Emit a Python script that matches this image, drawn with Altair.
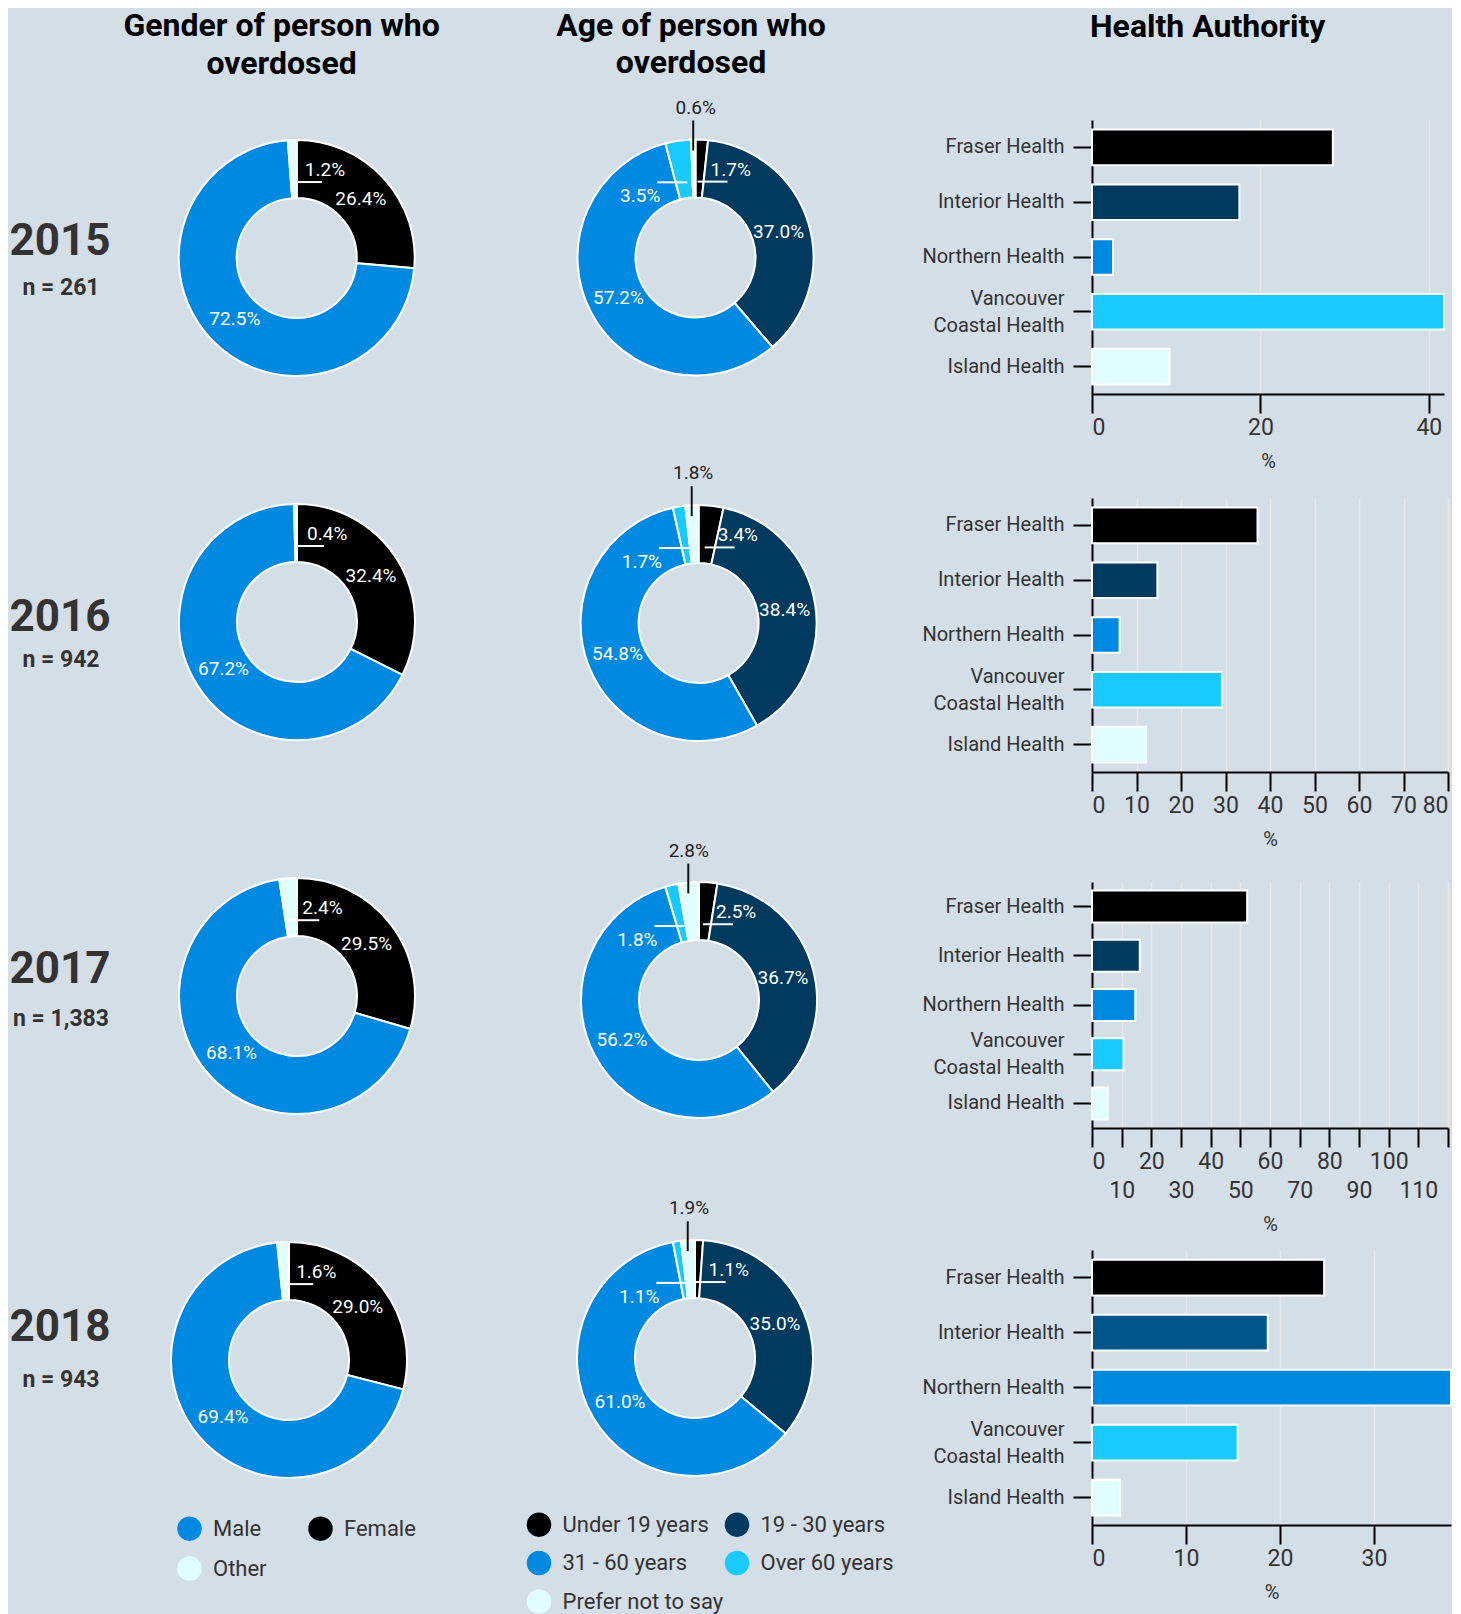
import altair as alt
import pandas as pd

# ---------------- data ----------------
YEARS = ["2015", "2016", "2017", "2018"]
N_LABELS = ["n = 261", "n = 942", "n = 1,383", "n = 943"]

GENDER_CATS = ["Female", "Male", "Other"]          # clockwise from the top
GENDER_LEGEND = ["Male", "Other", "Female"]        # legend fills column by column
GENDER_2015 = [26.4, 72.5, 1.2]
GENDER_2016 = [32.4, 67.2, 0.4]
GENDER_2017 = [29.5, 68.1, 2.4]
GENDER_2018 = [29.0, 69.4, 1.6]

AGE_CATS = ["Under 19 years", "19 - 30 years", "31 - 60 years", "Over 60 years", "Prefer not to say"]
AGE_LEGEND = ["Under 19 years", "31 - 60 years", "Prefer not to say", "19 - 30 years", "Over 60 years"]
AGE_2015 = [1.7, 37.0, 57.2, 3.5, 0.6]
AGE_2016 = [3.4, 38.4, 54.8, 1.7, 1.8]
AGE_2017 = [2.5, 36.7, 56.2, 1.8, 2.8]
AGE_2018 = [1.1, 35.0, 61.0, 1.1, 1.9]

HA_CATS = ["Fraser Health", "Interior Health", "Northern Health",
           "Vancouver Coastal Health", "Island Health"]
HA_2015 = [28.6, 17.5, 2.5, 41.8, 9.2]
HA_2016 = [37.2, 14.7, 6.2, 29.2, 12.1]
HA_2017 = [52.3, 16.1, 14.6, 10.6, 5.3]
HA_2018 = [24.7, 18.7, 38.2, 15.5, 3.0]

GENDER = [GENDER_2015, GENDER_2016, GENDER_2017, GENDER_2018]
AGE = [AGE_2015, AGE_2016, AGE_2017, AGE_2018]
HA = [HA_2015, HA_2016, HA_2017, HA_2018]

# ---------------- style ----------------
BG = "#d4dee6"
BLACK = "#000000"
NAVY = "#003a5e"
NAVY2 = "#00558a"
BLUE = "#0089e0"
CYAN = "#18caff"
PALE = "#e0fdff"
TXT = "#333333"

GENDER_COLOR = {"Male": BLUE, "Female": BLACK, "Other": PALE}
AGE_COLOR = {"Under 19 years": BLACK, "19 - 30 years": NAVY, "31 - 60 years": BLUE,
             "Over 60 years": CYAN, "Prefer not to say": PALE}
GENDER_STYLE = {"Other": "right"}
AGE_STYLE = {"Under 19 years": "right", "Over 60 years": "left", "Prefer not to say": "above"}

COLW = [160, 330, 594]
ROWH = [378, 384, 368, 360]
HEADER_H = 107

GENDER_CENTER = [(128.7, 138), (129, 124), (129, 114), (121, 110)]
AGE_CENTER = [(197.5, 137.5), (200.6, 125), (201, 118), (197, 108)]
YEAR_Y = [(122, 168), (120, 162), (88, 137), (78, 130)]

BAR_W = [352, 356, 356, 359]
BAR_H = [274, 274, 246, 275]
BAR_XMAX = [41.8, 80, 120, 38.2]
BAR_TICKS = [[0, 20, 40], list(range(0, 81, 10)), list(range(0, 121, 10)), [0, 10, 20, 30]]

ONE = alt.Data(values=[{}])


def text_cell(items, w, h):
    layers = []
    for it in items:
        t, x, y, size, weight, color = it[:6]
        extra = it[6] if len(it) > 6 else {}
        layers.append(
            alt.Chart(ONE).mark_text(text=t, fontSize=size, fontWeight=weight, color=color,
                                     font="Roboto", **extra)
            .encode(x=alt.value(x), y=alt.value(y))
        )
    return alt.layer(*layers).properties(width=w, height=h)


def donut(cats, vals, styles, dom, colors, cx, cy, w, h, legend=None):
    df = pd.DataFrame({"cat": cats, "v": vals})
    df["idx"] = list(range(len(cats)))
    df["lab"] = [f"{v:.1f}%" for v in vals]
    df["style"] = [styles.get(c, "big") for c in cats]
    base = alt.Chart(df).encode(
        theta=alt.Theta("v:Q", stack=True),
        order=alt.Order("idx:Q"),
        x=alt.value(cx), y=alt.value(cy),
    )
    arc = base.mark_arc(outerRadius=118, innerRadius=60, stroke="white", strokeWidth=2).encode(
        color=alt.Color("cat:N", scale=alt.Scale(domain=dom, range=[colors[d] for d in dom]),
                        legend=legend)
    )

    def lab(style, **kw):
        return base.mark_text(font="Roboto", fontSize=19, **kw).encode(
            text=alt.condition(f"datum.style == '{style}'", "lab:N", alt.value(""))
        )

    # leader lines, positioned from the slice mid-angles computed from the data
    leaders = (
        alt.Chart(df)
        .transform_joinaggregate(total="sum(v)")
        .transform_window(cum="sum(v)", sort=[alt.SortField("idx")], frame=[None, 0])
        .transform_calculate(ang="2*PI*(datum.cum - datum.v/2)/datum.total")
        .transform_calculate(
            ax=f"{cx} + 76*sin(datum.ang)",
            ay=f"{cy} - 76*cos(datum.ang)",
            vx=f"{cx} + 122*sin(datum.ang)",
        )
        .transform_calculate(
            x1="datum.style == 'right' ? datum.ax - 2 : datum.style == 'left' ? datum.ax - 27 : datum.vx",
            x2="datum.style == 'right' ? datum.ax + 28 : datum.style == 'left' ? datum.ax + 3 : datum.vx",
            y1=f"datum.style == 'above' ? {cy} - 107*cos(datum.ang) : datum.ay",
            y2=f"datum.style == 'above' ? {cy} - 137*cos(datum.ang) : datum.ay",
        )
        .transform_filter("datum.style != 'big'")
        .mark_rule(strokeWidth=2)
        .encode(
            x=alt.X("x1:Q", scale=None), x2="x2:Q",
            y=alt.Y("y1:Q", scale=None), y2="y2:Q",
            color=alt.condition("datum.style == 'above'", alt.value("#111111"), alt.value("white")),
        )
    )

    layers = [
        arc,
        leaders,
        lab("big", radius=87, color="white"),
        lab("right", radius=76, align="left", dx=11, dy=-12, color="white"),
        lab("left", radius=76, align="right", dx=-24, dy=14, color="white"),
        lab("above", radius=150, dx=3, color="#222222"),
    ]
    return alt.layer(*layers).properties(width=w, height=h)


def bars(i):
    df = pd.DataFrame({"ha": HA_CATS, "pct": HA[i]})
    colors = [BLACK, NAVY2 if i == 3 else NAVY, BLUE, CYAN, PALE]
    xscale = alt.Scale(domain=[0, BAR_XMAX[i]], nice=False, zero=True)
    two_rows = i == 2
    common = dict(orient="bottom", labelFontSize=23, labelColor=TXT, labelFont="Roboto",
                  tickSize=19, tickWidth=2, tickColor="black", labelPadding=3,
                  labelOverlap=False, titleFontSize=20, titleFont="Roboto",
                  titleFontWeight="normal", titleColor=TXT, titlePadding=12)
    if two_rows:
        xaxis = alt.Axis(values=BAR_TICKS[i], title=None, grid=True, gridColor="#e8e8e8",
                         gridWidth=1.5, domainColor="black", domainWidth=2, labelFlush=True,
                         labelExpr="datum.value % 20 == 0 && datum.value < 120 ? datum.label : ''",
                         **common)
    else:
        xaxis = alt.Axis(values=BAR_TICKS[i], title="%", grid=True, gridColor="#e8e8e8",
                         gridWidth=1.5, domainColor="black", domainWidth=2, labelFlush=True,
                         **common)
    yaxis = alt.Axis(title=None, labelFontSize=20, labelColor=TXT, labelFont="Roboto",
                     domainColor="black", domainWidth=2, tickColor="black", tickWidth=2,
                     tickSize=19, labelPadding=9, labelLimit=400, labelLineHeight=27,
                     labelOffset={"condition": {"test": "datum.value == 'Vancouver Coastal Health'",
                                                "value": -13},
                                  "value": 0},
                     labelExpr="datum.label == 'Vancouver Coastal Health' ? ['Vancouver', 'Coastal Health'] : datum.label")
    bar = alt.Chart(df).mark_bar(stroke="white", strokeWidth=2).encode(
        y=alt.Y("ha:N", sort=HA_CATS, axis=yaxis,
                scale=alt.Scale(paddingInner=0.35, paddingOuter=0.175)),
        x=alt.X("pct:Q", scale=xscale, axis=xaxis),
        color=alt.Color("ha:N", scale=alt.Scale(domain=HA_CATS, range=colors), legend=None),
    )
    if two_rows:
        c2 = dict(common)
        c2["labelPadding"] = 32
        ghost = alt.Chart(df).mark_point(opacity=0).encode(
            x=alt.X("pct:Q", scale=xscale,
                    axis=alt.Axis(values=list(range(10, 111, 20)), title="%", grid=False,
                                  domain=False, tickOpacity=0, labelFlush=False, **c2))
        )
        return alt.layer(bar, ghost).resolve_axis(x="independent").properties(
            width=BAR_W[i], height=BAR_H[i])
    return bar.properties(width=BAR_W[i], height=BAR_H[i])


cells = []
# header row
cells.append(text_cell([("", 0, 0, 10, "normal", TXT)], COLW[0], HEADER_H))
cells.append(text_cell([(["Gender of person who", "overdosed"], 113.6, 13, 32, "bold", "#000000",
                         {"lineHeight": 38})], COLW[1], HEADER_H))
cells.append(text_cell([(["Age of person who", "overdosed"], 193, 12.5, 32, "bold", "#000000",
                         {"lineHeight": 37})], COLW[2], HEADER_H))
cells.append(text_cell([("Health Authority", 115.7, 13.5, 32, "bold", "#000000")], BAR_W[0], HEADER_H))

for i in range(4):
    yy, ny = YEAR_Y[i]
    cells.append(text_cell([(YEARS[i], 52, yy, 44, "bold", TXT),
                            (N_LABELS[i], 53, ny, 23, "bold", TXT)], COLW[0], ROWH[i]))
    g_leg = None
    a_leg = None
    if i == 3:
        g_leg = alt.Legend(orient="none", legendX=9, legendY=266, columns=2, title=None,
                           symbolType="circle", symbolSize=600, symbolStrokeWidth=0,
                           symbolOpacity=1, labelFontSize=22, labelFont="Roboto",
                           labelColor=TXT, labelOffset=11, columnPadding=41, rowPadding=15,
                           labelLimit=300)
        a_leg = alt.Legend(orient="none", legendX=28.5, legendY=262, columns=2, title=None,
                           symbolType="circle", symbolSize=600, symbolStrokeWidth=0,
                           symbolOpacity=1, labelFontSize=22, labelFont="Roboto",
                           labelColor=TXT, labelOffset=11, columnPadding=1, rowPadding=13.5,
                           labelLimit=300)
    gx, gy = GENDER_CENTER[i]
    ax, ay = AGE_CENTER[i]
    cells.append(donut(GENDER_CATS, GENDER[i], GENDER_STYLE, GENDER_LEGEND, GENDER_COLOR,
                       gx, gy, COLW[1], ROWH[i], g_leg))
    cells.append(donut(AGE_CATS, AGE[i], AGE_STYLE, AGE_LEGEND, AGE_COLOR,
                       ax, ay, COLW[2], ROWH[i], a_leg))
    cells.append(bars(i))

chart = alt.concat(*cells, columns=4).properties(
    spacing=0, bounds="flush", align="each", padding=0
).resolve_scale(
    theta="independent", color="independent", x="independent", y="independent"
).resolve_legend(color="independent").configure(
    background=BG, font="Roboto"
).configure_view(stroke=None)

chart.save("out.html", embed_options={"renderer": "svg", "actions": False})
